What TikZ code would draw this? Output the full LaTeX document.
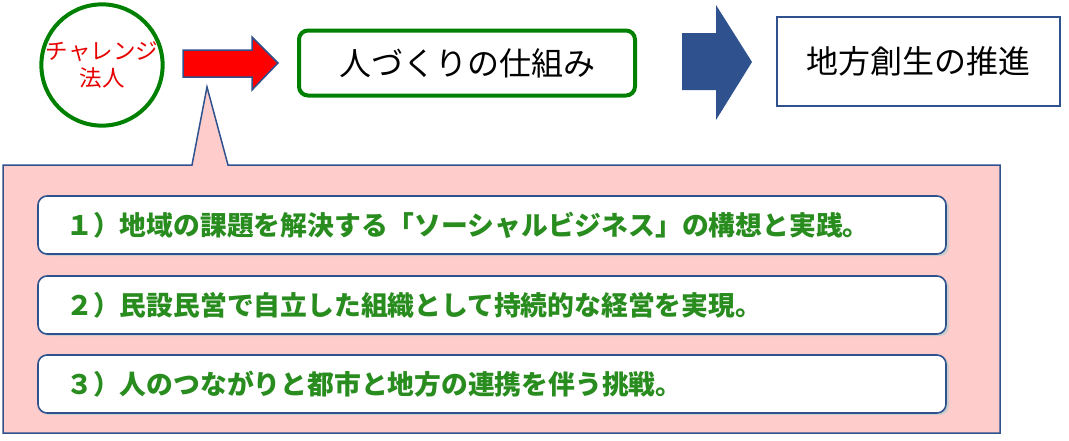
\documentclass[tikz,border=0pt]{standalone}
\usepackage{fontspec}
\setmainfont{Noto Sans CJK JP}
\newfontfamily\jpmed{Noto Sans CJK JP Medium}
\definecolor{cgreen}{RGB}{0,128,0}
\definecolor{tgreen}{RGB}{40,140,30}
\definecolor{dblue}{RGB}{47,82,143}
\definecolor{pinkfill}{RGB}{255,204,204}
\definecolor{cred}{RGB}{230,0,0}
\tikzset{
  itembox/.style={draw=dblue, line width=1.6pt, fill=white, rounded corners=9pt,
    minimum width=908pt, minimum height=58pt, inner sep=0pt},
  itemtext/.style={anchor=west, text=tgreen, font=\fontsize{26.8}{30}\selectfont\bfseries, inner sep=0pt}
}
\begin{document}
\begin{tikzpicture}[x=1pt,y=-1pt]
\useasboundingbox (0,0) rectangle (1069,440);
% callout
\draw[draw=dblue, line width=1.5pt, fill=pinkfill]
  (3,165) -- (192,165) -- (207,87) -- (228,165) -- (1000,165) -- (1000,433) -- (3,433) -- cycle;
% items
\foreach \i/\y/\t in {1/225/{１）地域の課題を解決する「ソーシャルビジネス」の構想と実践。},
                     2/305/{２）民設民営で自立した組織として持続的な経営を実現。},
                     3/384/{３）人のつながりと都市と地方の連携を伴う挑戦。}}{
  \fill[black!20, rounded corners=9pt] (40,\y-27) rectangle (949,\y+31);
  \node[itembox] (item\i) at (492,\y) {};
  \node[itemtext] (itemt\i) at (66,\y) {\t};
}
% circle
\node[draw=cgreen, line width=4pt, circle, minimum size=120pt, inner sep=0pt,
  align=center, text=cred, font=\fontsize{22.5}{27}\selectfont] (circ) at (102,65) {チャレンジ\\法人};
% red arrow
\draw[draw=dblue, line width=1.5pt, fill=red, line join=miter]
  (183,50) -- (252,50) -- (252,37) -- (278,63) -- (252,90) -- (252,77) -- (183,77) -- cycle;
% box 1
\node[draw=cgreen, line width=4pt, rounded corners=9pt, minimum width=336pt, minimum height=65pt,
  font=\fontsize{32}{36}\selectfont] (shikumi) at (467,63) {人づくりの仕組み};
% blue arrow
\fill[dblue] (682,33) -- (716,33) -- (716,5) -- (752,62) -- (716,120) -- (716,90) -- (682,90) -- cycle;
% box 2
\node[draw=dblue, line width=2pt, minimum width=283pt, minimum height=89pt,
  font=\fontsize{32}{36}\selectfont] (suishin) at (918,61) {地方創生の推進};
\end{tikzpicture}
\end{document}
